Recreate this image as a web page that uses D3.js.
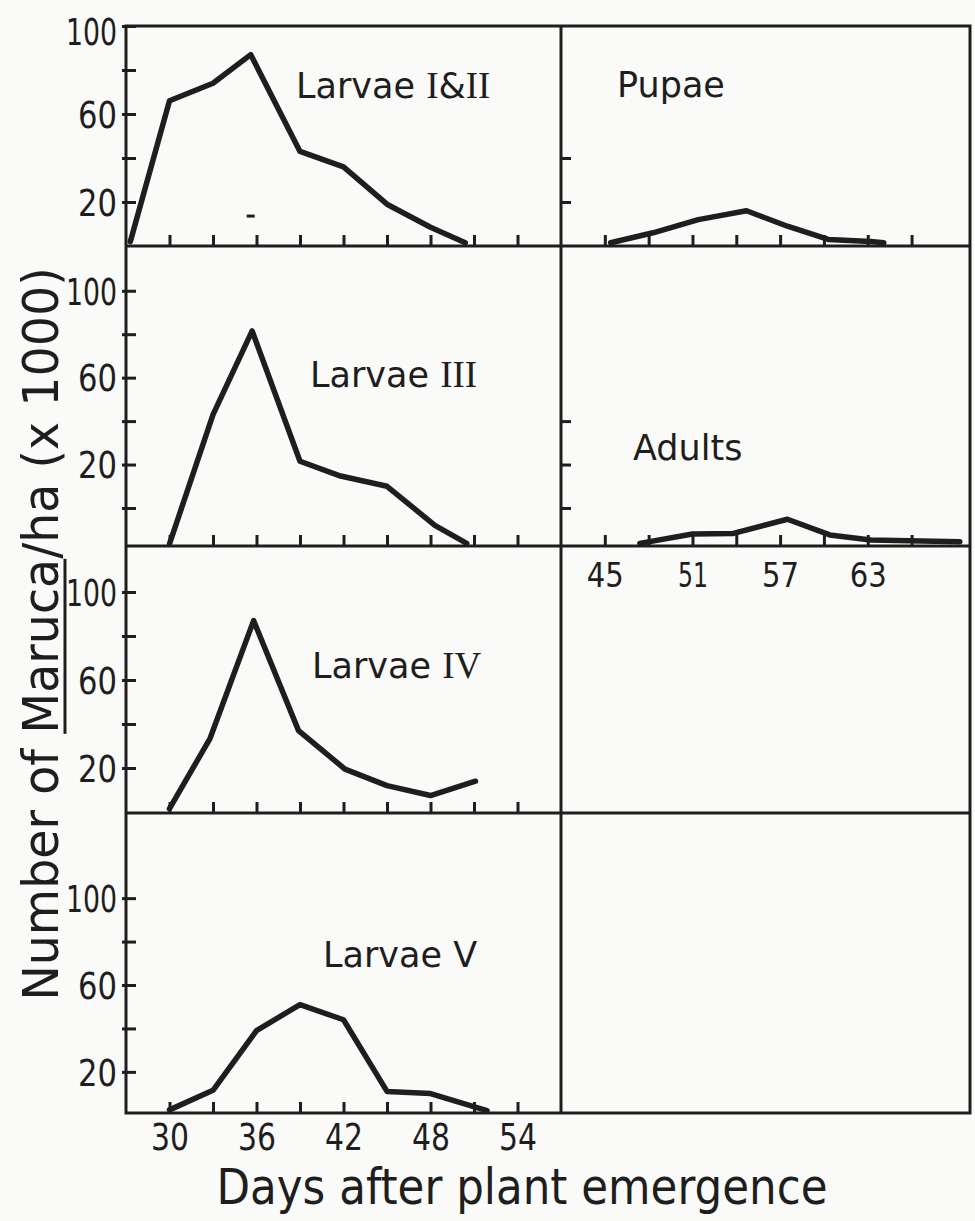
<!DOCTYPE html>
<html>
<head>
<meta charset="utf-8">
<script src="https://cdn.jsdelivr.net/npm/d3@7"></script>
<style>
  html, body { margin: 0; padding: 0; background: #fafaf8; }
  svg { display: block; }
</style>
</head>
<body>
<svg id="chart" width="975" height="1221"></svg>
<script>
// ---------------- DATA ----------------
// Days after plant emergence / Number of Maruca per ha (x 1000)
const daysLarvaeI_II = [27.3, 30, 33, 35.6, 39, 42, 45, 48, 50.4];
const larvaeI_II     = [2, 66, 74, 87, 43, 36, 19, 8.5, 1.5];

const daysLarvaeIII  = [30, 33, 35.7, 39, 41.8, 45, 48.3, 50.5];
const larvaeIII      = [-16.5, 43, 81.5, 21.5, 14.7, 10, -8, -16.3];

const daysLarvaeIV   = [30, 32.8, 35.8, 38.9, 42.1, 45, 48, 51.1];
const larvaeIV       = [1.5, 33.5, 87, 37, 19.5, 12, 7.5, 14];

const daysLarvaeV    = [30, 33, 36, 39, 42, 45, 48, 51.9];
const larvaeV        = [2.5, 11.5, 39, 51, 44, 11, 10, 2.2];

const daysPupae      = [45.4, 48.3, 51.4, 54.7, 57.5, 60.3, 63.2, 64.1];
const pupae          = [1.5, 6, 12, 16, 9, 3, 2, 1.5];

const daysAdults     = [47.4, 51, 53.8, 57.5, 60.4, 63.2, 69.3];
const adults         = [-16.3, -12, -11.7, -5.2, -12.4, -14.7, -15.5];

// stray mark visible under the Larvae I&II peak
const strayMark      = [35.6, 13.6];

// tick values / labels
const leftXTicks   = [30, 33, 36, 39, 42, 45, 48, 51, 54];
const leftXLabels  = [30, 36, 42, 48, 54];
const rightXTicks  = [45, 48, 51, 54, 57, 60, 63, 66];
const rightXLabels = [45, 51, 57, 63];
const yTicksRow1   = [20, 40, 60, 80, 100];
const yTicksRow2   = [0, 20, 40, 60, 80, 100];
const yTicksRow3   = [20, 40, 60, 80, 100];
const yTicksRow4   = [20, 40, 60, 80, 100];
const yLabelValues = [20, 60, 100];
const yTicksPupae  = [20, 40];
const yTicksAdults = [0, 20, 40];

const xTitle = "Days after plant emergence";
const yTitleParts = ["Number of ", "Maruca", "/ha (x 1000)"];

// ---------------- LAYOUT ----------------
const ink = "#1e1e1e";
const frame = { left: 126, mid: 561, right: 970 };
const rowBounds = [[26, 246], [246, 546], [546, 813], [813, 1113]];
const yDomains  = [[0, 100], [-17.5, 120.6], [-0.45, 120.9], [1.06, 139.2]];

const svg = d3.select("#chart");
svg.append("rect").attr("width", 975).attr("height", 1221).attr("fill", "#fafaf8");

const xLeft  = d3.scaleLinear().domain([27, 57]).range([frame.left, frame.mid]);
const xRight = d3.scaleLinear().domain([42, 70]).range([frame.mid, frame.right]);
const yScales = rowBounds.map((b, i) => d3.scaleLinear().domain(yDomains[i]).range([b[1], b[0]]));

const panels = [
  { name: "Larvae ", num: "I&II", x: xLeft, row: 0, days: daysLarvaeI_II, values: larvaeI_II,
    yTicks: yTicksRow1, yLab: true, xTicks: leftXTicks, xLabels: [], title: [296, 98] },
  { name: "Larvae ", num: "III", x: xLeft, row: 1, days: daysLarvaeIII, values: larvaeIII,
    yTicks: yTicksRow2, yLab: true, xTicks: leftXTicks, xLabels: [], title: [310, 387] },
  { name: "Larvae ", num: "IV", x: xLeft, row: 2, days: daysLarvaeIV, values: larvaeIV,
    yTicks: yTicksRow3, yLab: true, xTicks: leftXTicks, xLabels: [], title: [312, 678] },
  { name: "Larvae V", num: "", x: xLeft, row: 3, days: daysLarvaeV, values: larvaeV,
    yTicks: yTicksRow4, yLab: true, xTicks: leftXTicks, xLabels: leftXLabels, title: [323, 967] },
  { name: "Pupae", num: "", x: xRight, row: 0, days: daysPupae, values: pupae,
    yTicks: yTicksPupae, yLab: false, xTicks: rightXTicks, xLabels: [], title: [617, 97] },
  { name: "Adults", num: "", x: xRight, row: 1, days: daysAdults, values: adults,
    yTicks: yTicksAdults, yLab: false, xTicks: rightXTicks, xLabels: rightXLabels, title: [633, 460] }
];

const digitFont = "'DejaVu Sans', 'Liberation Sans', sans-serif";
function digitWidth(str, w) {
  let s = 0;
  for (const c of str) s += (c === "1" ? 0.62 : 1) * w;
  return s;
}
function condense(sel, w) {
  sel.each(function () {
    const t = this.textContent;
    if (!t) return;
    this.setAttribute("textLength", digitWidth(t, w));
    this.setAttribute("lengthAdjust", "spacingAndGlyphs");
  });
}

// ---------------- PANELS ----------------
panels.forEach(p => {
  const y = yScales[p.row];
  const [top, bottom] = rowBounds[p.row];
  const x0 = p.x.range()[0];
  const isBottom = p.row === 3;

  // x axis (ticks pointing up into the panel)
  const gx = svg.append("g")
    .attr("transform", `translate(0,${bottom})`)
    .call(d3.axisBottom(p.x).tickValues(p.xTicks).tickSize(-11)
      .tickFormat(d => p.xLabels.includes(d) ? String(d) : ""));
  gx.select(".domain").remove();
  gx.selectAll(".tick line").attr("stroke", ink).attr("stroke-width", 3);
  gx.selectAll(".tick text")
    .attr("fill", ink)
    .attr("font-family", digitFont)
    .attr("font-size", isBottom ? 38 : 34)
    .attr("y", isBottom ? 37 : 40.5)
    .attr("dy", null);
  condense(gx.selectAll(".tick text"), isBottom ? 19 : 18.5);

  // y axis (ticks pointing right into the panel)
  const gy = svg.append("g")
    .attr("transform", `translate(${x0},0)`)
    .call(d3.axisLeft(y).tickValues(p.yTicks).tickSize(-9).tickPadding(9)
      .tickFormat(d => (p.yLab && yLabelValues.includes(d)) ? String(d) : ""));
  gy.select(".domain").remove();
  gy.selectAll(".tick line").attr("stroke", ink).attr("stroke-width", 3)
    .attr("x1", p.yLab ? -4 : 0).attr("x2", 10);
  gy.selectAll(".tick text")
    .attr("fill", ink)
    .attr("font-family", digitFont)
    .attr("font-size", 37)
    .attr("dy", d => (p.row === 0 && d === 100) ? "0.5em" : "0.36em");
  condense(gy.selectAll(".tick text"), 19.5);

  // data line
  svg.append("path")
    .datum(d3.zip(p.days, p.values))
    .attr("fill", "none")
    .attr("stroke", ink)
    .attr("stroke-width", 5.5)
    .attr("stroke-linejoin", "round")
    .attr("stroke-linecap", "round")
    .attr("d", d3.line().x(d => p.x(d[0])).y(d => y(d[1])));

  // panel title
  const t = svg.append("text")
    .attr("x", p.title[0]).attr("y", p.title[1])
    .attr("fill", ink)
    .attr("font-family", "'DejaVu Sans', sans-serif")
    .attr("font-size", 35);
  t.append("tspan").text(p.name);
  for (const c of p.num) {
    const serif = c === "I" || c === "V";
    t.append("tspan")
      .attr("font-family", serif ? "'Liberation Serif', 'DejaVu Serif', serif" : "'DejaVu Sans', sans-serif")
      .attr("font-size", serif ? 37 : 35)
      .text(c);
  }
});

// stray dash in the first panel
svg.append("line")
  .attr("x1", xLeft(strayMark[0]) - 4).attr("x2", xLeft(strayMark[0]) + 4)
  .attr("y1", yScales[0](strayMark[1])).attr("y2", yScales[0](strayMark[1]))
  .attr("stroke", ink).attr("stroke-width", 3);

// ---------------- FRAME ----------------
const fr = svg.append("g").attr("stroke", ink).attr("stroke-width", 3).attr("fill", "none");
fr.append("rect")
  .attr("x", frame.left).attr("y", rowBounds[0][0])
  .attr("width", frame.right - frame.left)
  .attr("height", rowBounds[3][1] - rowBounds[0][0]);
fr.append("line").attr("x1", frame.mid).attr("x2", frame.mid)
  .attr("y1", rowBounds[0][0]).attr("y2", rowBounds[3][1]);
[1, 2, 3].forEach(i => {
  fr.append("line").attr("x1", frame.left).attr("x2", frame.right)
    .attr("y1", rowBounds[i][0]).attr("y2", rowBounds[i][0]);
});

// ---------------- AXIS TITLES ----------------
svg.append("g")
  .attr("transform", "translate(522,1204) scale(0.89,1)")
  .append("text")
  .attr("x", 0).attr("y", 0)
  .attr("text-anchor", "middle")
  .attr("fill", ink)
  .attr("font-family", "'DejaVu Sans', sans-serif")
  .attr("font-size", 49)
  .text(xTitle);

const gt = svg.append("g").attr("transform", "translate(58,634) rotate(-90) scale(0.97,1)");
const yt = gt.append("text")
  .attr("x", 0).attr("y", 0)
  .attr("text-anchor", "middle")
  .attr("fill", ink)
  .attr("font-family", "'DejaVu Sans', sans-serif")
  .attr("font-size", 49);
yTitleParts.forEach(s => yt.append("tspan").text(s));
// underline the genus name
const node = yt.node();
const full = node.getComputedTextLength();
const i0 = yTitleParts[0].length;
const sx = -full / 2 + node.getSubStringLength(0, i0);
const ex = sx + node.getSubStringLength(i0, yTitleParts[1].length);
gt.append("line").attr("x1", sx).attr("x2", ex).attr("y1", 7).attr("y2", 7)
  .attr("stroke", ink).attr("stroke-width", 3);
</script>
</body>
</html>
